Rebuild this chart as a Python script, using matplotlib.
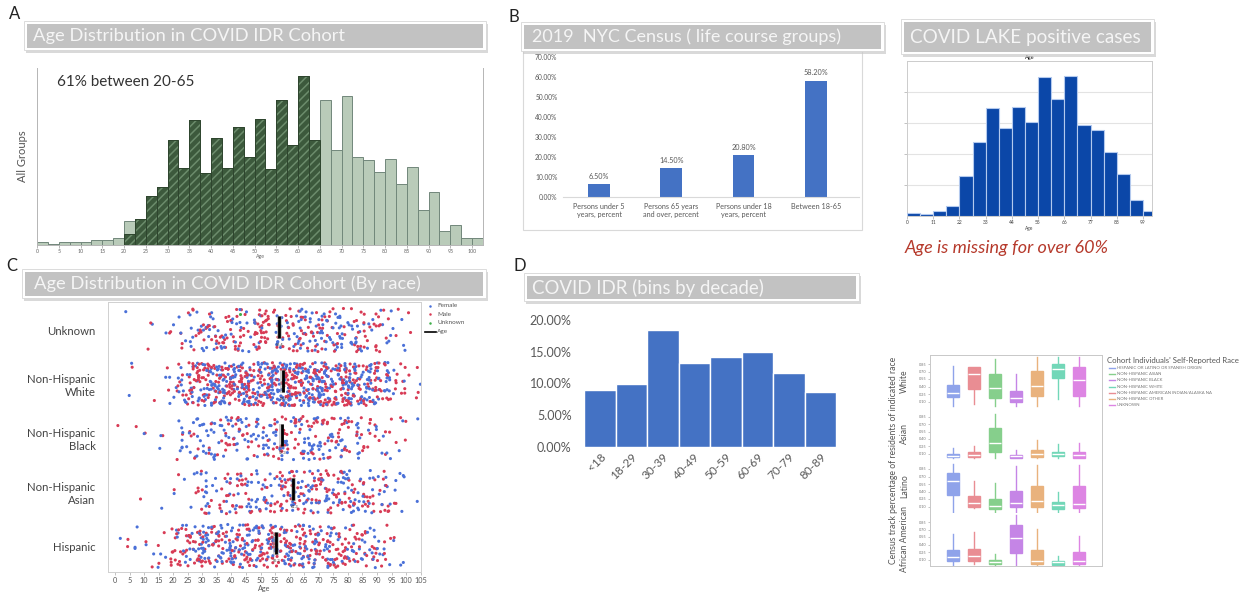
import numpy as np
import matplotlib
matplotlib.use("Agg")
import matplotlib.pyplot as plt
from matplotlib.patches import Rectangle

W, H = 1245, 596
plt.rcParams['font.family'] = ['Lato', 'DejaVu Sans']
plt.rcParams['hatch.linewidth'] = 1.1

# ---------------- DATA ----------------
# Panel A: COVID IDR age histogram (2.5-year bins starting at 0)
a_bin_width = 2.5
a_counts = [10, 3, 8, 8, 8, 14, 14, 20, 72, 78, 148, 175, 316, 232, 376, 217, 321, 232,
            355, 264, 380, 229, 437, 301, 509, 315, 436, 285, 448, 266, 257, 219, 260,
            185, 236, 106, 160, 43, 59, 20, 20]
a_sel_start = 20.0  # highlighted 20-65 range
a_sel_counts = [34, 78, 148, 175, 316, 232, 376, 217, 321, 232, 355, 264, 380, 229,
                437, 301, 509, 315]
a_ticks = list(range(0, 101, 5))

# Panel B: 2019 NYC census
b_categories = ["Persons under 5\nyears, percent", "Persons 65 years\nand over, percent",
                "Persons under 18\nyears, percent", "Between 18-65"]
b_values = [6.5, 14.5, 20.8, 58.2]

# COVID LAKE histogram (5.5-year bins)
l_bin_width = 5.5
l_counts = [10, 7, 15, 33, 129, 240, 349, 285, 353, 303, 448, 379, 453, 295, 277, 207,
            136, 52, 17]
l_ticks = [0, 11, 22, 33, 44, 55, 66, 77, 88, 99]

# Panel C: strip plot, counts of patients per 5-year age bin (0-105) per race
c_races = ["Unknown", "Non-Hispanic\nWhite", "Non-Hispanic\nBlack", "Non-Hispanic\nAsian",
           "Hispanic"]
c_unknown = [1, 0, 3, 3, 7, 18, 24, 22, 24, 24, 24, 26, 28, 26, 28, 24, 24, 18, 13, 6, 2]
c_white = [1, 2, 1, 5, 20, 42, 56, 56, 58, 58, 60, 62, 62, 60, 60, 58, 54, 46, 32, 13, 5]
c_black = [1, 1, 2, 3, 10, 16, 19, 19, 20, 21, 21, 26, 26, 26, 26, 23, 18, 13, 9, 6, 1]
c_asian = [0, 1, 0, 1, 4, 10, 16, 18, 21, 21, 21, 26, 28, 28, 28, 28, 26, 23, 18, 8, 1]
c_hispanic = [3, 3, 6, 10, 24, 34, 40, 40, 40, 42, 44, 42, 40, 37, 34, 31, 26, 21, 13, 4, 0]
c_female_share = [0.45, 0.50, 0.55, 0.50, 0.50]
c_medians = [56.4, 57.6, 57.3, 61.3, 55.3]
c_ticks = list(range(0, 106, 5))

# Panel D: COVID IDR bins by decade (%)
d_categories = ["<18", "18-29", "30-39", "40-49", "50-59", "60-69", "70-79", "80-89"]
d_values = [9.05, 10.0, 18.4, 13.3, 14.2, 14.9, 11.6, 8.7]

# Box plots: census tract share of residents by race, per cohort self-reported race
bx_rows = ["White", "Asian", "Latino", "African American"]
bx_groups = ["HISPANIC OR LATINO OR SPANISH ORIGIN", "NON-HISPANIC ASIAN",
             "NON-HISPANIC BLACK", "NON-HISPANIC WHITE",
             "NON-HISPANIC AMERICAN INDIAN/ALASKA NA", "NON-HISPANIC OTHER", "UNKNOWN"]
bx_order = ["HISPANIC OR LATINO OR SPANISH ORIGIN", "NON-HISPANIC AMERICAN INDIAN/ALASKA NA",
            "NON-HISPANIC ASIAN", "NON-HISPANIC BLACK", "NON-HISPANIC OTHER",
            "NON-HISPANIC WHITE", "UNKNOWN"]
# (whislo, q1, med, q3, whishi) per box
bx_white = [(0.005, 0.19, 0.28, 0.44, 0.81), (0.05, 0.36, 0.66, 0.80, 0.80),
            (0.005, 0.17, 0.38, 0.66, 0.95), (0.005, 0.10, 0.17, 0.31, 0.66),
            (0.005, 0.22, 0.42, 0.71, 1.0), (0.15, 0.58, 0.76, 0.85, 1.0),
            (0.005, 0.22, 0.54, 0.80, 1.0)]
bx_asian = [(0.01, 0.03, 0.06, 0.10, 0.21), (0.01, 0.03, 0.07, 0.14, 0.26),
            (0.01, 0.14, 0.32, 0.62, 0.90), (0.01, 0.02, 0.05, 0.08, 0.17),
            (0.01, 0.04, 0.09, 0.17, 0.38), (0.01, 0.05, 0.10, 0.14, 0.29),
            (0.01, 0.02, 0.07, 0.14, 0.32)]
bx_latino = [(0.0, 0.33, 0.62, 0.77, 0.95), (0.08, 0.09, 0.165, 0.32, 0.62),
             (0.0, 0.05, 0.11, 0.26, 0.58), (0.0, 0.09, 0.18, 0.41, 0.91),
             (0.0, 0.09, 0.21, 0.52, 0.93), (0.0, 0.05, 0.13, 0.19, 0.39),
             (0.0, 0.07, 0.15, 0.52, 0.93)]
bx_aa = [(0.0, 0.07, 0.16, 0.29, 0.61), (0.02, 0.08, 0.18, 0.32, 0.65),
         (0.0, 0.01, 0.06, 0.09, 0.22), (0.0, 0.24, 0.54, 0.79, 1.0),
         (0.0, 0.02, 0.08, 0.29, 0.71), (0.0, 0.0, 0.05, 0.08, 0.17),
         (0.0, 0.01, 0.08, 0.25, 0.58)]
bx_ticks = [0.10, 0.25, 0.40, 0.55, 0.70, 0.85]

# ---------------- STYLE ----------------
bx_colors = {
    "HISPANIC OR LATINO OR SPANISH ORIGIN": "#8fa3ea",
    "NON-HISPANIC ASIAN": "#86cf8c",
    "NON-HISPANIC BLACK": "#c585e6",
    "NON-HISPANIC WHITE": "#72d7b8",
    "NON-HISPANIC AMERICAN INDIAN/ALASKA NA": "#e98d93",
    "NON-HISPANIC OTHER": "#e9b27d",
    "UNKNOWN": "#dd85e3",
}

fig = plt.figure(figsize=(W / 100, H / 100), dpi=100)


def px_axes(x0, y0, x1, y1):
    return fig.add_axes([x0 / W, 1 - y1 / H, (x1 - x0) / W, (y1 - y0) / H])


def jitter(i, seed):
    # deterministic hash used only to spread strip-plot dots inside their bin/band
    return (np.sin(i * 12.9898 + seed * 78.233) * 43758.5453) % 1.0


# ---------------- Panel A ----------------
axA = px_axes(37, 68, 483, 245)
a_left = np.arange(len(a_counts)) * a_bin_width
axA.bar(a_left, a_counts, width=a_bin_width, align='edge', color='#b9cbb9',
        edgecolor='#71877a', lw=0.7)
s_left = a_sel_start + np.arange(len(a_sel_counts)) * a_bin_width
axA.bar(s_left, a_sel_counts, width=a_bin_width, align='edge', color='#3c593c',
        edgecolor='#6c8c6c', lw=0, hatch='////')
axA.bar(s_left, a_sel_counts, width=a_bin_width, align='edge', fill=False,
        edgecolor='#2e452e', lw=0.7)
axA.set_xlim(0, 102.5)
axA.set_ylim(0, 533)
axA.set_xticks(a_ticks)
axA.set_xticklabels([str(t) for t in a_ticks], fontsize=3.8, color='#666666')
axA.tick_params(axis='x', length=2, width=0.5, color='#999999', pad=1)
axA.set_yticks([])
axA.spines['top'].set_visible(False)
for s in ['left', 'right', 'bottom']:
    axA.spines[s].set_color('#b5b5b5')
    axA.spines[s].set_linewidth(0.7)
axA.set_xlabel('Age', fontsize=3.8, color='#666666', labelpad=0)
axA.set_ylabel('All Groups', fontsize=8, color='#555555')
axA.yaxis.set_label_coords(-9 / 446, 0.5)
axA.text(20 / 446, 1 - 14 / 177, '61% between 20-65', transform=axA.transAxes,
         fontsize=11, color='#333333', va='center', ha='left')

# ---------------- Panel B ----------------
axB = px_axes(563, 57, 859, 197)
xb = np.arange(len(b_values))
axB.bar(xb, b_values, width=0.3, color='#4472c4')
for xi, v in zip(xb, b_values):
    axB.text(xi, v + 2.2, f"{v:.2f}%", ha='center', va='bottom', fontsize=5.2,
             color='#595959')
axB.set_xlim(-0.5, 3.6)
axB.set_ylim(0, 70)
axB.set_yticks(range(0, 71, 10))
axB.set_yticklabels([f"{v:.2f}%" for v in range(0, 71, 10)], fontsize=4.8,
                    color='#595959')
axB.set_xticks(xb)
axB.set_xticklabels(b_categories, fontsize=5.2, color='#595959')
axB.tick_params(length=0, pad=4)
for s in ['top', 'left', 'right']:
    axB.spines[s].set_visible(False)
axB.spines['bottom'].set_color('#d9d9d9')

# ---------------- COVID LAKE ----------------
axL = px_axes(907, 61, 1152, 216)
l_left = np.arange(len(l_counts)) * l_bin_width
axL.bar(l_left, l_counts, width=l_bin_width, align='edge', color='#0b47a8',
        edgecolor='#b3c9ee', lw=0.8, zorder=3)
axL.set_xlim(0, 102.8)
axL.set_ylim(0, 500)
axL.set_yticks([100, 200, 300, 400])
axL.set_yticklabels([])
axL.grid(axis='y', color='#e3e3e3', lw=0.8, zorder=0)
axL.set_xticks(l_ticks)
axL.set_xticklabels([str(t) for t in l_ticks], fontsize=3.5, color='#444444')
axL.tick_params(length=2, width=0.5, color='#aaaaaa', pad=1)
for s in axL.spines.values():
    s.set_color('#cccccc')
    s.set_linewidth(0.7)
axL.set_title('Age', fontsize=4, pad=1.5)
axL.set_xlabel('Age', fontsize=3.5, labelpad=0.5, color='#444444')

# ---------------- Panel C ----------------
axC = px_axes(108, 302, 421, 572)
race_counts = [c_unknown, c_white, c_black, c_asian, c_hispanic]
xs, ys, cs = [], [], []
idx = 0
for r, counts in enumerate(race_counts):
    for b, n in enumerate(counts):
        for k in range(n):
            idx += 1
            u = jitter(idx, 1)
            v = jitter(idx, 2)
            xs.append(b * 5 + 5 * u)
            ys.append(r + (v - 0.5) * 0.8)
            female = jitter(idx, 3) < c_female_share[r]
            cs.append('#4a70d8' if female else '#d83b55')
axC.scatter(xs, ys, s=5, c=cs, linewidths=0, zorder=2)
axC.scatter([43], [-0.3], s=5, c='#3fae4a', linewidths=0, zorder=2)
for r, m in enumerate(c_medians):
    axC.add_patch(Rectangle((m - 0.9, r - 0.26), 1.8, 0.42, color='#9a9a9a', alpha=0.5,
                            lw=0, zorder=3))
    axC.vlines(m, r - 0.26, r + 0.15, color='black', lw=2.0, zorder=4)
    axC.text(m + 0.3, r + 0.28, f"{m:.1f}", fontsize=2.8, color='#333333', ha='center',
             va='center', zorder=4)
axC.set_xlim(-2.4, 105.1)
axC.set_ylim(4.48, -0.52)
axC.set_yticks(range(len(c_races)))
axC.set_yticklabels(c_races, fontsize=8.2, color='#444444', ha='right',
                    multialignment='right')
axC.tick_params(axis='y', length=0, pad=9)
axC.set_xticks(c_ticks)
axC.set_xticklabels([str(t) for t in c_ticks], fontsize=5.2, color='#555555')
axC.tick_params(axis='x', length=2, width=0.5, color='#aaaaaa', pad=1.5)
axC.set_xlabel('Age', fontsize=5.2, color='#555555', labelpad=0.5)
for s in axC.spines.values():
    s.set_color('#d0d0d0')
    s.set_linewidth(0.7)

# ---------------- Panel D ----------------
axD = px_axes(584, 320, 836, 447)
xd = np.arange(len(d_values))
axD.bar(xd, d_values, width=1.0, color='#4472c4', edgecolor='white', lw=1.0)
axD.set_xlim(-0.5, len(d_values) - 0.5)
axD.set_ylim(0, 20)
axD.set_yticks(range(0, 21, 5))
axD.set_yticklabels([f"{v:.2f}%" for v in range(0, 21, 5)], fontsize=9,
                    color='#595959')
axD.set_xticks(xd)
axD.set_xticklabels(d_categories, fontsize=8.5, color='#595959', rotation=45,
                    ha='right', rotation_mode='anchor')
axD.tick_params(axis='y', length=0, pad=9)
axD.tick_params(axis='x', length=0, pad=3)
for s in axD.spines.values():
    s.set_visible(False)

# ---------------- Box plots ----------------
bx_data = [bx_white, bx_asian, bx_latino, bx_aa]
bx_rects = [(355, 408), (408, 460), (460, 513), (513, 566)]
for i, (name, rows, (y0, y1)) in enumerate(zip(bx_rows, bx_data, bx_rects)):
    ax = px_axes(930, y0, 1102, y1)
    stats = []
    for (lo, q1, med, q3, hi) in rows:
        stats.append({'whislo': lo, 'q1': q1, 'med': med, 'q3': q3, 'whishi': hi,
                      'fliers': []})
    bp = ax.bxp(stats, positions=range(7), widths=0.57, patch_artist=True,
                showcaps=False, showfliers=False,
                medianprops=dict(color='white', lw=1.0))
    for j, g in enumerate(bx_order):
        col = bx_colors[g]
        bp['boxes'][j].set_facecolor(col)
        bp['boxes'][j].set_edgecolor(col)
        bp['whiskers'][2 * j].set_color(col)
        bp['whiskers'][2 * j + 1].set_color(col)
        bp['whiskers'][2 * j].set_linewidth(1.0)
        bp['whiskers'][2 * j + 1].set_linewidth(1.0)
    ax.set_xlim(-1.1, 7.1)
    ax.set_ylim(-0.03, 1.03)
    ax.set_xticks([])
    ax.set_yticks(bx_ticks)
    ax.set_yticklabels([f"{t:.2f}" for t in bx_ticks], fontsize=2.8, color='#777777')
    ax.tick_params(axis='y', length=1.5, width=0.4, color='#999999', pad=1)
    ax.set_ylabel(name, fontsize=6.2, color='#555555')
    ax.yaxis.set_label_coords(-21 / 172, 0.5)
    for s in ax.spines.values():
        s.set_color('#c8c8c8')
        s.set_linewidth(0.7)
    if i in (0, 2):
        ax.spines['bottom'].set_visible(False)
    if i in (1, 3):
        ax.spines['top'].set_visible(False)
    if i == 2:
        ax.spines['top'].set_visible(False)

# ---------------- Overlay: frames, banners, letters ----------------
ov = fig.add_axes([0, 0, 1, 1])
ov.set_xlim(0, W)
ov.set_ylim(H, 0)
ov.axis('off')
ov.patch.set_alpha(0)
ov.set_zorder(10)

# panel B outer frame
ov.add_patch(Rectangle((523, 50), 339, 180, fill=False, ec='#d9d9d9', lw=0.8))


def banner(x0, y0, x1, y1, text, fs, tx):
    w, h = x1 - x0, y1 - y0
    ov.add_patch(Rectangle((x0 + 1.5, y0 + 2.5), w, h, fc='#c9c9c9', ec='none',
                           alpha=0.7))
    ov.add_patch(Rectangle((x0, y0), w, h, fc='white', ec='#d6d6d6', lw=0.6))
    ov.add_patch(Rectangle((x0 + 3, y0 + 2.5), w - 6, h - 5, fc='#c2c2c2', ec='none'))
    ov.text(tx, (y0 + y1) / 2 + 0.5, text, fontsize=fs, color='#f5f5f5', ha='left',
            va='center')


banner(24, 21, 486, 50, 'Age Distribution in COVID IDR Cohort', 13.2, 33)
banner(521, 22, 884, 51, '2019  NYC Census ( life course groups)', 13.0, 532)
banner(901, 19, 1154, 54, 'COVID LAKE positive cases', 13.6, 910)
banner(22, 269, 486, 298, 'Age Distribution in COVID IDR Cohort (By race)', 13.2, 34)
banner(524, 273, 859, 301, 'COVID IDR (bins by decade)', 13.4, 532)

for letter, x, y in [('A', 15, 14), ('B', 514, 17), ('C', 12, 266), ('D', 520, 266)]:
    ov.text(x, y, letter, fontsize=12, color='#222222', ha='center', va='center')

ov.text(905, 248, 'Age is missing for over 60%', fontsize=13, style='italic',
        color='#b63a2c', ha='left', va='center')

# scatter legend (panel C)
leg_c = [('Female', '#4a70d8'), ('Male', '#d83b55'), ('Unknown', '#3fae4a')]
for k, (lab, col) in enumerate(leg_c):
    yy = 305.5 + k * 8.5
    ov.plot([430], [yy], 'o', ms=1.8, color=col, mec='none')
    ov.text(437, yy, lab, fontsize=4.6, color='#555555', va='center', ha='left')
ov.plot([425, 436], [331.5, 331.5], color='black', lw=1.2)
ov.text(437, 331.5, 'Age', fontsize=4.6, color='#555555', va='center', ha='left')

# box plot legend and y label
ov.text(893, 460, 'Census track percentage of residents of indicated race', rotation=90,
        fontsize=6.2, color='#555555', ha='center', va='center')
ov.text(1107, 361, "Cohort Individuals' Self-Reported Race", fontsize=5.6,
        color='#555555', ha='left', va='center')
for k, g in enumerate(bx_groups):
    yy = 368 + k * 6.2
    ov.plot([1109, 1115], [yy, yy], color=bx_colors[g], lw=1.0)
    ov.text(1117, yy, g, fontsize=3.1, color='#777777', ha='left', va='center')

fig.savefig('out.png', dpi=100)
